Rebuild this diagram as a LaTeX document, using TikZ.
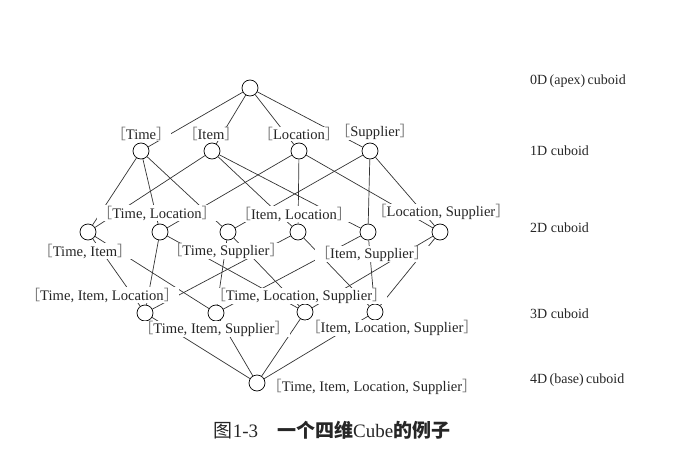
\documentclass[tikz,border=0pt]{standalone}
\usepackage{fontspec}
\setmainfont{Liberation Serif}
\newfontfamily\cjk{Noto Sans CJK SC}
\usetikzlibrary{positioning}

% bracketed cuboid label
\newcommand\cubname[1]{{\cjk\color{black!55}［}#1{\cjk\color{black!55}］}}

\begin{document}
\begin{tikzpicture}[
    x=1pt, y=-1pt,
    font=\fontsize{14.6}{16}\selectfont,
    cub/.style={circle, draw, line width=0.7pt, minimum size=16pt, inner sep=0pt, fill=white},
    lbl/.style={fill=white, inner sep=0.5pt, text=black!85},
    lvl/.style={anchor=west, inner sep=0pt, text=black!85, font=\fontsize{14}{16}\selectfont},
    edge/.style={draw, line width=0.7pt, black!80},
]
\useasboundingbox (0,0) rectangle (688,460);

% 0D
\node[cub] (apex) at (250,88) {};

% 1D
\node[cub] (T) at (141,151) {};
\node[cub] (I) at (212,151) {};
\node[cub] (L) at (299,151) {};
\node[cub] (S) at (370,151) {};

% 2D
\node[cub] (TI) at (88,232) {};
\node[cub] (TL) at (160,232) {};
\node[cub] (TS) at (228,232) {};
\node[cub] (IL) at (298,232) {};
\node[cub] (IS) at (368,232) {};
\node[cub] (LS) at (440,232) {};

% 3D
\node[cub] (TIL) at (145,313) {};
\node[cub] (TIS) at (216,313) {};
\node[cub] (TLS) at (305,312) {};
\node[cub] (ILS) at (375,312) {};

% 4D
\node[cub] (base) at (257,383) {};

% edges
\foreach \a/\b in {apex/T, apex/I, apex/L, apex/S,
    T/TI, T/TL, T/TS, I/TI, I/IL, I/IS, L/TL, L/IL, L/LS, S/TS, S/IS, S/LS,
    TI/TIL, TI/TIS, TL/TIL, TL/TLS, TS/TIS, TS/TLS,
    IL/TIL, IL/ILS, IS/TIS, IS/ILS, LS/TLS, LS/ILS,
    TIL/base, TIS/base, TLS/base, ILS/base}
    \draw[edge] (\a) -- (\b);

% labels
\node[lbl] (lT) at (141,134) {\cubname{Time}};
\node[lbl] (lI) at (211,134) {\cubname{Item}};
\node[lbl] (lL) at (299,134) {\cubname{Location}};
\node[lbl] (lS) at (375,132) {\cubname{Supplier}};
\node[lbl] (lTL) at (157,213) {\cubname{Time, Location}};
\node[lbl] (lIL) at (294,214) {\cubname{Item, Location}};
\node[lbl] (lLS) at (441,212) {\cubname{Location, Supplier}};
\node[lbl] (lTI) at (85,251) {\cubname{Time, Item}};
\node[lbl] (lTS) at (226,251) {\cubname{Time, Supplier}};
\node[lbl] (lIS) at (372,254) {\cubname{Item, Supplier}};
\node[lbl] (lTIL) at (102,295) {\cubname{Time, Item, Location}};
\node[lbl] (lTLS) at (299,296) {\cubname{Time, Location, Supplier}};
\node[lbl] (lTIS) at (214,329) {\cubname{Time, Item, Supplier}};
\node[lbl] (lILS) at (392,328) {\cubname{Item, Location, Supplier}};
\node[lbl] (lbase) at (372,387) {\cubname{Time, Item, Location, Supplier}};

% levels
\node[lvl] (d0) at (530,81) {0D\,(apex)\,cuboid};
\node[lvl] (d1) at (530,151) {1D cuboid};
\node[lvl] (d2) at (530,228) {2D cuboid};
\node[lvl] (d3) at (530,314) {3D cuboid};
\node[lvl] (d4) at (530,380) {4D\,(base)\,cuboid};

% caption
\node[font=\fontsize{19}{22}\selectfont, text=black!85] (cap) at (332,430)
    {{\cjk 图}1-3\quad{\cjk\bfseries 一个四维}Cube{\cjk\bfseries 的例子}};

\end{tikzpicture}
\end{document}
